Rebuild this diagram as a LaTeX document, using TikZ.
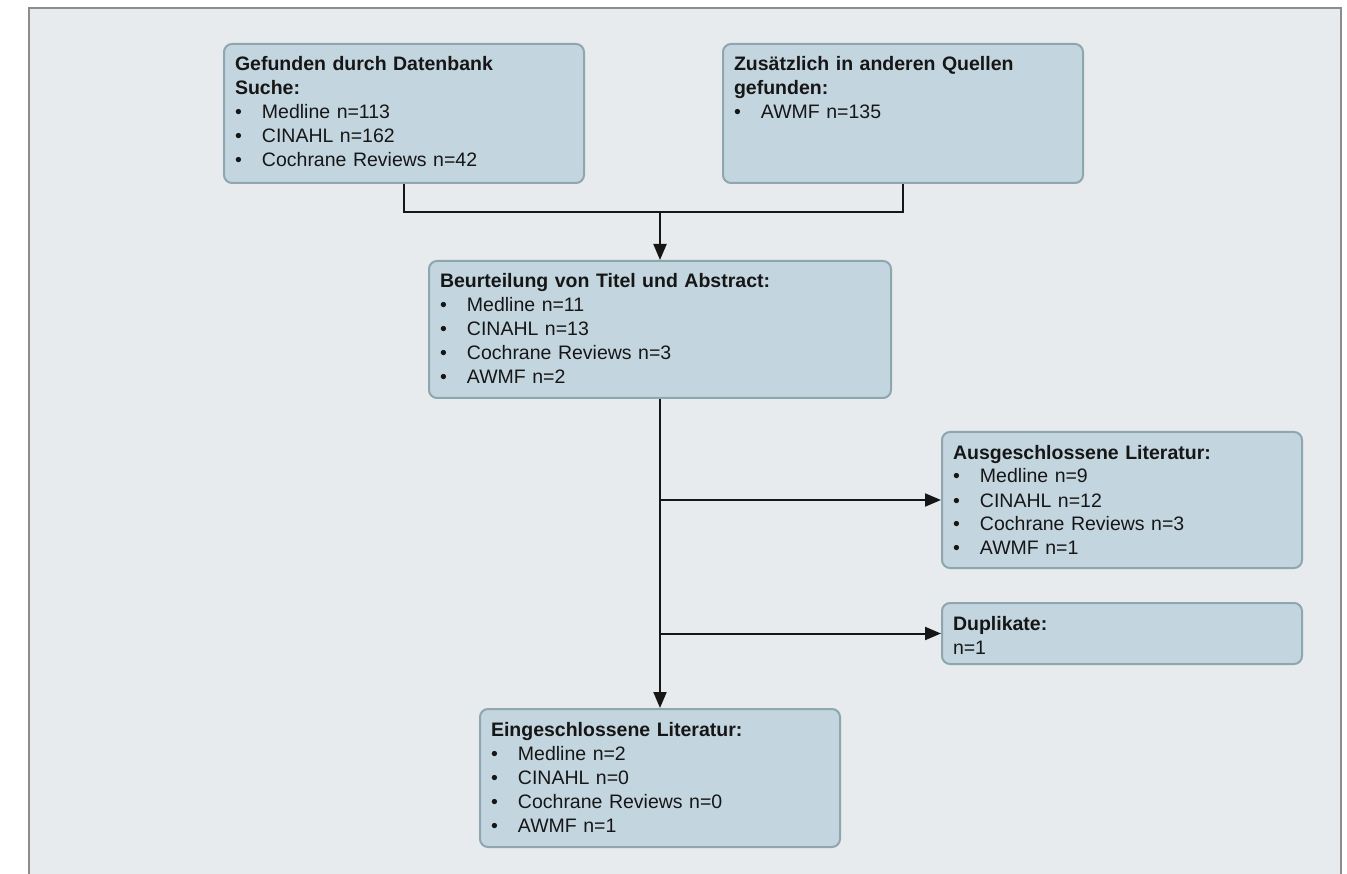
\documentclass[tikz,border=0pt]{standalone}
\usepackage{fontspec}
\setmainfont{Liberation Sans}
\usetikzlibrary{arrows.meta}

\definecolor{framegray}{HTML}{8C8C8C}
\definecolor{paneback}{HTML}{E7EBEE}
\definecolor{boxfill}{HTML}{C3D5DF}
\definecolor{boxline}{HTML}{8FA6AE}
\definecolor{inkblack}{HTML}{161616}

\newcommand{\litem}[1]{\makebox[27pt][l]{•}#1}

\begin{document}
\begin{tikzpicture}[x=1pt,y=-1pt,line join=miter,
  >={Triangle[length=16pt,width=13pt]},
  flowbox/.style={draw=boxline,fill=boxfill,line width=2pt,rounded corners=8pt,
    anchor=north west,inner xsep=11pt,inner ysep=0pt,align=left,text=inkblack,
    font=\fontsize{19.5}{24}\selectfont,text height=27pt},
  link/.style={line width=2pt,inkblack}]

% --- page and frame (open at the bottom) ---
\useasboundingbox (0,0) rectangle (1347,874);
\fill[white] (0,0) rectangle (1347,874);
\fill[paneback] (29,8) rectangle (1341,874);
\draw[framegray,line width=2pt] (29,874) -- (29,8) -- (1341,8) -- (1341,874);

% --- sources ---
\node[flowbox,text width=338pt,text depth=112pt] (search) at (223,43)
  {{\bfseries Gefunden durch Datenbank\\Suche:}\\
   \litem{Medline n=113}\\
   \litem{CINAHL n=162}\\
   \litem{Cochrane Reviews n=42}};
\node[flowbox,text width=338pt,text depth=112pt] (other) at (722,43)
  {{\bfseries Zusätzlich in anderen Quellen\\gefunden:}\\
   \litem{AWMF n=135}};

% --- screening ---
\node[flowbox,text width=440pt,text depth=110pt] (screen) at (428,260)
  {{\bfseries Beurteilung von Titel und Abstract:}\\
   \litem{Medline n=11}\\
   \litem{CINAHL n=13}\\
   \litem{Cochrane Reviews n=3}\\
   \litem{AWMF n=2}};

% --- side branches ---
\node[flowbox,text width=338pt,text depth=109pt] (excl) at (941,431)
  {{\bfseries Ausgeschlossene Literatur:}\\
   \litem{Medline n=9}\\
   \litem{CINAHL n=12}\\
   \litem{Cochrane Reviews n=3}\\
   \litem{AWMF n=1}};
\node[flowbox,text width=338pt,text depth=34pt] (dupl) at (941,602)
  {{\bfseries Duplikate:}\\
   n=1};

% --- result ---
\node[flowbox,text width=338pt,text depth=111pt] (incl) at (479,708)
  {{\bfseries Eingeschlossene Literatur:}\\
   \litem{Medline n=2}\\
   \litem{CINAHL n=0}\\
   \litem{Cochrane Reviews n=0}\\
   \litem{AWMF n=1}};

% --- connectors ---
\coordinate (merge) at (screen.north |- 0,212);
\draw[link] (search.south) |- (merge) -| (other.south);
\draw[link,->] (merge) -- (screen.north);
\draw[link,->] (screen.south) -- (incl.north);
\draw[link,->] (screen.south |- excl.west) -- (excl.west);
\draw[link,->] (screen.south |- dupl.west) -- (dupl.west);

\end{tikzpicture}
\end{document}
